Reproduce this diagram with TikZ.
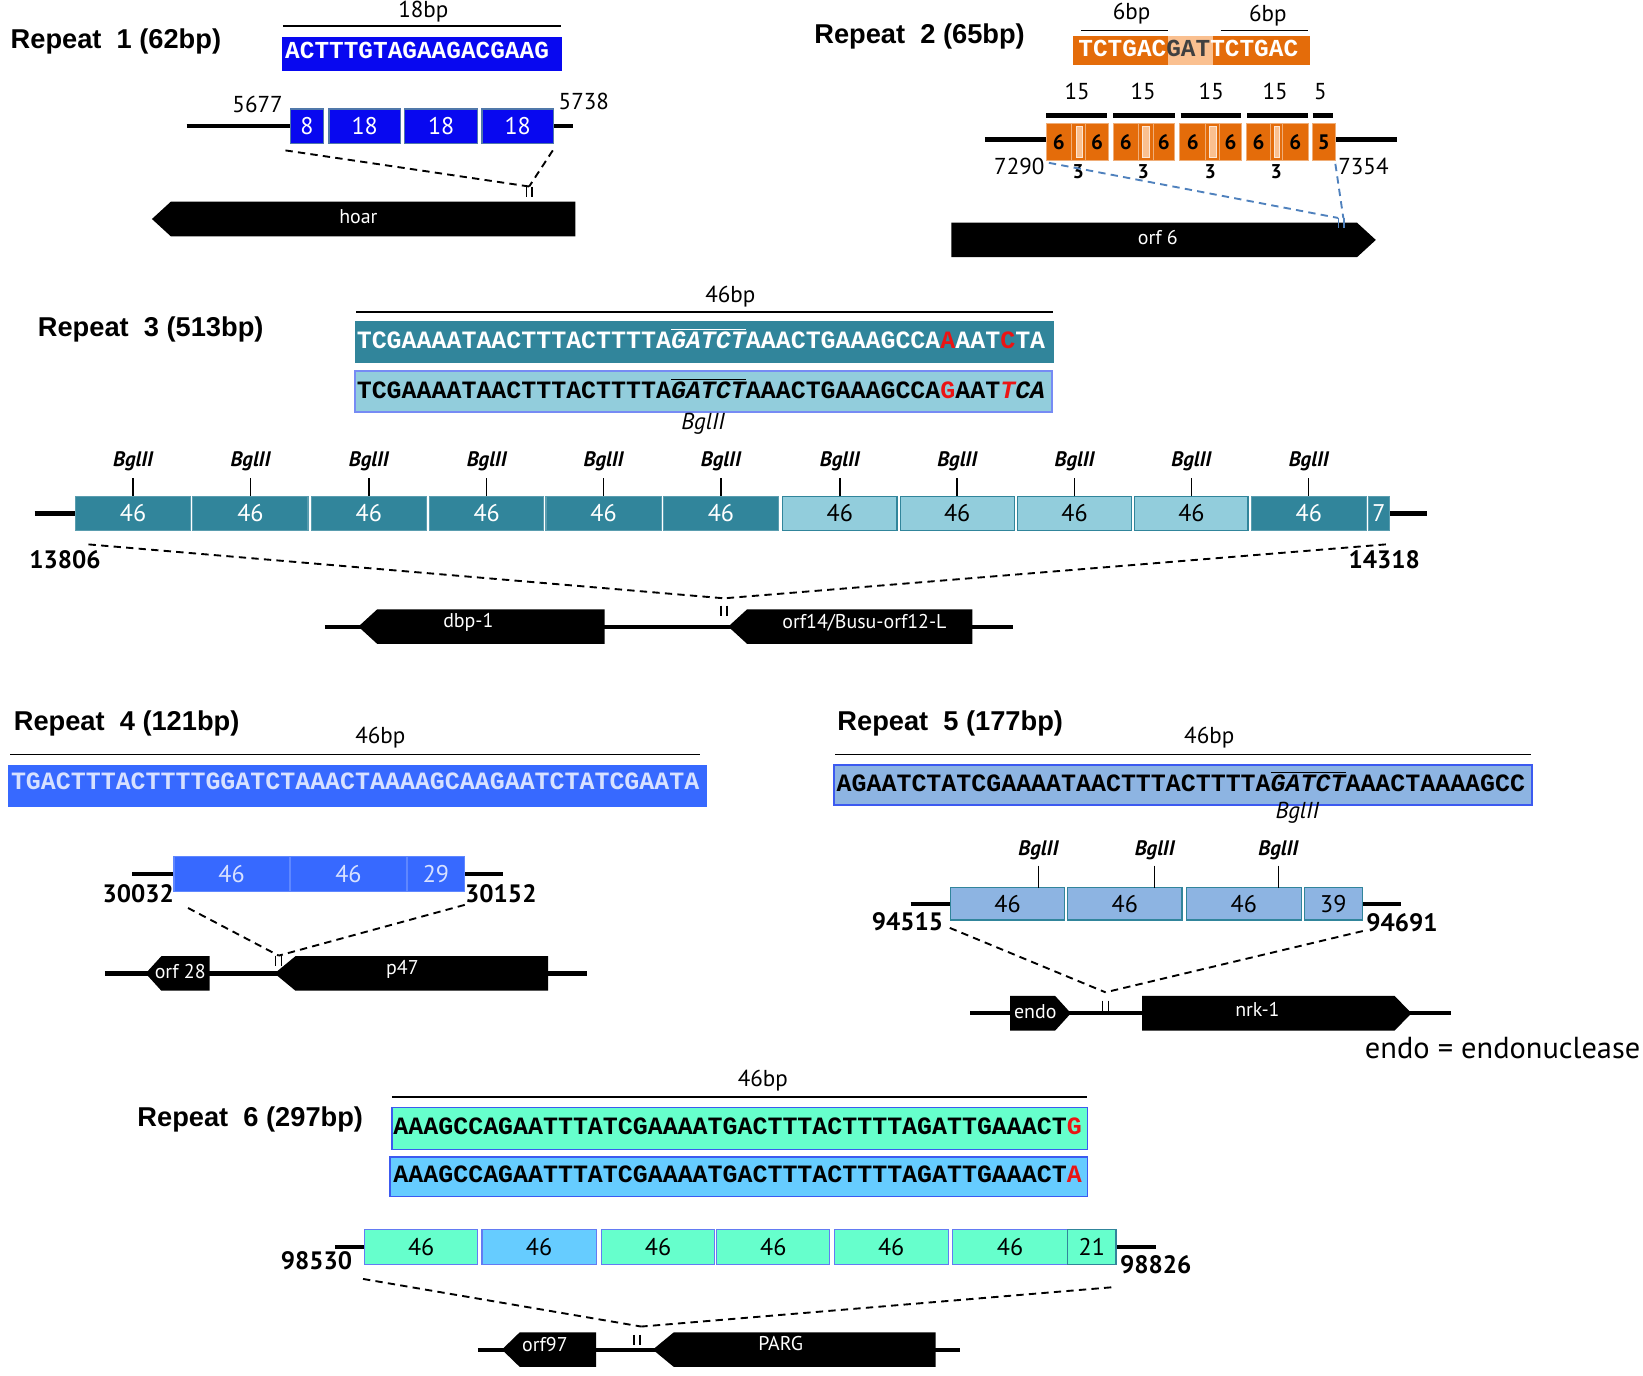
\documentclass[tikz,border=0pt]{standalone}
\usepackage{fontspec}
\setmainfont{PT Sans}
\newfontfamily\titlefont{Liberation Sans}
\newfontfamily\seqfont{Liberation Mono}
\usetikzlibrary{calc}
\definecolor{rOneBlue}{RGB}{8,8,240}
\definecolor{rOneEdge}{RGB}{80,120,170}
\definecolor{rTwoOr}{RGB}{228,108,10}
\definecolor{rTwoLt}{RGB}{250,192,144}
\definecolor{rThrDk}{RGB}{49,133,155}
\definecolor{rThrLt}{RGB}{146,205,220}
\definecolor{rFourBl}{RGB}{55,105,255}
\definecolor{rFourTx}{RGB}{215,225,255}
\definecolor{rFiveLt}{RGB}{141,180,226}
\definecolor{rSixAq}{RGB}{102,255,204}
\definecolor{rSixSky}{RGB}{102,204,255}
\definecolor{edgeBlue}{RGB}{60,90,240}
\definecolor{dashBlue}{RGB}{79,129,189}
\definecolor{mutRed}{RGB}{235,20,20}
\newcommand\fsz[1]{\fontsize{#1}{#1}\selectfont}
\newcommand\ovl[1]{\leavevmode\vbox{\hrule height 1.3pt\kern 1.5pt\hbox{#1}}}
\newcommand\red[1]{\textcolor{mutRed}{#1}}
% style, name, x1, x2, y1, y2, text
\newcommand\rbox[7]{\node[#1,minimum width={(#4-#3)*1pt},minimum height={(#6-#5)*1pt}] (#2) at ({(#3+#4)/2},{(#5+#6)/2}) {#7};}
% left-pointing gene: xtip, xend, yc, head
\newcommand\geneL[4]{\fill[black] (#1,#3) -- ({#1+#4},{#3-16.5}) -- (#2,{#3-16.5}) -- (#2,{#3+16.5}) -- ({#1+#4},{#3+16.5}) -- cycle;}
% right-pointing gene: xstart, xtip, yc, head
\newcommand\geneR[4]{\fill[black] (#2,#3) -- ({#2-#4},{#3-16.5}) -- (#1,{#3-16.5}) -- (#1,{#3+16.5}) -- ({#2-#4},{#3+16.5}) -- cycle;}
\newcommand\insmark[2]{\draw[#2,line width=1.3pt] #1 ++(-2.8,0) -- ++(0,10) #1 ++(2.8,0) -- ++(0,10);}
\begin{document}
\begin{tikzpicture}[x=1pt,y=-1pt,
  lbl/.style={inner sep=0pt,font=\fsz{22}},
  bnum/.style={inner sep=0pt,font=\bfseries\fsz{24}},
  ttl/.style={inner sep=0pt,anchor=west,font=\titlefont\bfseries\fsz{26}},
  seqt/.style={inner sep=0pt,font=\seqfont\bfseries\fsz{23.8}},
  glab/.style={inner sep=0pt,text=white,font=\fsz{19}},
  bgl/.style={inner sep=0pt,font=\bfseries\itshape\fsz{20}},
  unit/.style={draw,line width=1.1pt,inner sep=0pt,font=\fsz{23}},
  gline/.style={line width=4pt},
  sbar/.style={line width=1.5pt},
  tick/.style={line width=1.4pt},
  conn/.style={line width=1.8pt,dash pattern=on 7pt off 5pt},
  r1u/.style={unit,fill=rOneBlue,draw=rOneEdge,text=white},
  r2u/.style={unit,fill=rTwoOr,draw=rTwoOr!55!white,line width=0.8pt,font=\bfseries\fsz{20}},
  r2bar/.style={fill=rTwoLt,draw=white!60!rTwoLt,line width=0.8pt},
  r4u/.style={unit,fill=rFourBl,draw=rFourBl!80!white,text=rFourTx},
  r5u/.style={unit,fill=rFiveLt,draw=rThrDk,text=black},
  ]
\useasboundingbox (0,0) rectangle (1568,1313);

% ================= Repeat 1 =================
\node[ttl] (t1) at (10,40) {Repeat\ \ 1 (62bp)};
\node[lbl] (r1len) at (404,11) {18bp};
\draw[sbar] (270,25) -- (535,25);
\rbox{fill=rOneBlue,inner sep=0pt}{r1seq}{269}{536}{35}{68}{}
\node[seqt,text=white,anchor=west,font=\seqfont\bfseries\fsz{23.3}] (r1txt) at (272,48) {ACTTTGTAGAAGACGAAG};
\draw[gline] (178,120) -- (280,120);
\draw[gline] (525,120) -- (547,120);
\rbox{r1u}{r1a}{277}{309}{104}{137}{8}
\rbox{r1u}{r1b}{314}{382}{104}{137}{18}
\rbox{r1u}{r1c}{386}{456}{104}{137}{18}
\rbox{r1u}{r1d}{460}{528}{104}{137}{18}
\node[lbl,anchor=east] (r1s) at (270,100) {5677};
\node[lbl,anchor=west] (r1e) at (533,97) {5738};
\geneL{145}{549}{209}{18}
\node[glab] (hoar) at (342,207) {hoar};
\coordinate (r1ins) at (505,178);
\draw[conn] ($(r1a.south west)+(-4,6)$) -- (r1ins);
\draw[conn] ($(r1d.south east)+(-1,6)$) -- (r1ins);
\insmark{(r1ins)}{black}

% ================= Repeat 2 =================
\node[ttl] (t2) at (777,35) {Repeat\ \ 2 (65bp)};
\node[lbl] (r2l1) at (1080,13) {6bp};
\node[lbl] (r2l2) at (1210,15) {6bp};
\draw[sbar] (1032,29) -- (1115,29);
\draw[sbar] (1165,29) -- (1248,29);
\rbox{fill=rTwoOr,inner sep=0pt}{r2seq}{1024}{1250}{34}{62}{}
\fill[rTwoLt] (1115,34) rectangle (1158,62);
\node[seqt,anchor=west,font=\seqfont\bfseries\fsz{23.3}] (r2txt) at (1029,46) {\textcolor{white}{TCTGAC}\textcolor{black!75}{GAT}\textcolor{white}{TCTGAC}};
\draw[line width=5pt] (940,133) -- (1000,133);
\draw[line width=5pt] (1272,133) -- (1333,133);
\rbox{r2u}{r2a1}{998.4}{1022.5}{118}{153}{6}
\rbox{r2u}{r2a2}{1022.5}{1036.3}{118}{153}{}
\rbox{r2u}{r2a3}{1036.3}{1057.8}{118}{153}{6}
\rbox{r2u}{r2b1}{1062.3}{1086.5}{118}{153}{6}
\rbox{r2u}{r2b2}{1086.5}{1100.5}{118}{153}{}
\rbox{r2u}{r2b3}{1100.5}{1121}{118}{153}{6}
\rbox{r2u}{r2c1}{1125.8}{1150.7}{118}{153}{6}
\rbox{r2u}{r2c2}{1150.7}{1163.7}{118}{153}{}
\rbox{r2u}{r2c3}{1163.7}{1185.2}{118}{153}{6}
\rbox{r2u}{r2d1}{1189.6}{1212.7}{118}{153}{6}
\rbox{r2u}{r2d2}{1212.7}{1224.2}{118}{153}{}
\rbox{r2u}{r2d3}{1224.2}{1248.3}{118}{153}{6}
\rbox{r2u}{r2e}{1252.8}{1274}{118}{153}{5}
\draw[r2bar] (1027,121) rectangle (1033,150);
\draw[r2bar] (1090.5,121) rectangle (1097.2,150);
\draw[r2bar] (1154.4,121) rectangle (1161.1,150);
\draw[r2bar] (1216.4,121) rectangle (1220.8,150);
\foreach \x/\t in {1028/15,1091/15,1156/15,1217/15,1260/5} {\node[lbl] at (\x,87) {\t};}
\draw[line width=5pt] (998.4,110) -- (1056.7,110);
\draw[line width=5pt] (1062.3,110) -- (1121,110);
\draw[line width=5pt] (1126.6,110) -- (1184.8,110);
\draw[line width=5pt] (1190.5,110) -- (1248.3,110);
\draw[line width=5pt] (1252.8,110) -- (1272.1,110);
\foreach \x in {1029,1091,1155,1218} {\node[bnum,font=\bfseries\fsz{19}] at (\x,164) {3};}
\node[lbl,anchor=east] (r2s) at (997,159) {7290};
\node[lbl,anchor=west] (r2e2) at (1277,159) {7354};
\geneR{908}{1313}{229}{18}
\node[glab] (orf6) at (1105,227) {orf 6};
\coordinate (r2ins) at (1280,208);
\draw[conn,draw=dashBlue] ($(r2a1.south west)+(3,2)$) -- ($(r2ins)+(-3,0)$);
\draw[conn,draw=dashBlue] ($(r2e.south east)+(0,3)$) -- ($(r2ins)+(2,0)$);
\insmark{(r2ins)}{dashBlue}

% ================= Repeat 3 =================
\node[ttl] (t3) at (36,314) {Repeat\ \ 3 (513bp)};
\node[lbl] (r3len) at (697,283) {46bp};
\draw[sbar] (340,298) -- (1005,298);
\rbox{fill=rThrDk,inner sep=0pt}{r3seqa}{339}{1006}{306}{346}{}
\node[seqt,text=white] (r3ta) at (669,323) {TCGAAAATAACTTTACTTTTA\ovl{\itshape GATCT}AAACTGAAAGCCA\red{A}AAT\red{C}TA};
\rbox{fill=rThrLt,draw=edgeBlue!70!white,line width=1.5pt,inner sep=0pt}{r3seqb}{339}{1004}{354}{393}{}
\node[seqt,text=black] (r3tb) at (669,371) {TCGAAAATAACTTTACTTTTA\ovl{\itshape GATCT}AAACTGAAAGCCA\red{G}AAT\red{\itshape T}\textit{CA}};
\node[lbl,font=\itshape\fsz{22}] (r3bgl) at (671,404) {BglII};
\draw[gline] (33,490) -- (75,490);
\draw[gline] (1323,490) -- (1362,490);
\foreach \a/\b/\fc/\tc/\ec [count=\i] in {72/182/rThrDk/white/rThrDk!80!white,184/294/rThrDk/white/rThrDk!80!white,297/407/rThrDk/white/rThrDk!80!white,410/519/rThrDk/white/rThrDk!80!white,521/631/rThrDk/white/rThrDk!80!white,633/743/rThrDk/white/rThrDk!80!white,747/856/rThrLt/black/rThrDk,859/968/rThrLt/black/rThrDk,971/1080/rThrLt/black/rThrDk,1083/1191/rThrLt/black/rThrDk,1194/1304/rThrDk/white/rThrDk!80!white} {
  \rbox{unit,fill=\fc,text=\tc,draw=\ec}{r3b\i}{\a}{\b}{474}{506}{46}
  \draw[tick] (r3b\i.north) -- ++(0,-17);
  \node[bgl] at ({(\a+\b)/2},440) {BglII};
}
\rbox{unit,fill=rThrDk,text=white,draw=rThrDk!80!white}{r3s}{1306}{1326}{474}{506}{7}
\node[bnum] (r3st) at (62,534) {13806};
\node[bnum] (r3en) at (1321,534) {14318};
\draw[gline] (310,598) -- (967,598);
\geneL{342}{577}{598}{18}
\node[glab] (dbp) at (447,594) {dbp-1};
\geneL{695}{928}{598}{18}
\node[glab] (orf14) at (825,594) {orf14/Busu-orf12-L};
\coordinate (r3ins) at (691,571);
\coordinate (r3mk) at (691,578);
\draw[conn] ($(r3b1.south west)+(13,13)$) -- (r3ins);
\draw[conn] ($(r3s.south east)+(-4,13)$) -- (r3ins);
\insmark{(r3mk)}{black}

% ================= Repeat 4 =================
\node[ttl] (t4) at (13,690) {Repeat\ \ 4 (121bp)};
\node[lbl] (r4len) at (363,704) {46bp};
\draw[sbar] (10,720) -- (668,720);
\rbox{fill=rFourBl,inner sep=0pt}{r4seq}{8}{675}{730}{770}{}
\node[seqt,text=rFourTx] (r4t) at (339,746) {TGACTTTACTTTTGGATCTAAACTAAAAGCAAGAATCTATCGAATA};
\draw[gline] (126,834) -- (170,834);
\draw[gline] (440,834) -- (480,834);
\rbox{r4u}{r4a}{166}{276}{817}{851}{46}
\rbox{r4u}{r4b}{277}{388}{817}{851}{46}
\rbox{r4u}{r4c}{389}{443}{817}{851}{29}
\node[bnum] (r4st) at (132,853) {30032};
\node[bnum] (r4en) at (478,853) {30152};
\draw[gline] (100,929) -- (560,929);
\geneL{139}{200}{929}{15}
\node[glab] (orf28) at (172,927) {orf 28};
\geneL{262}{523}{929}{20}
\node[glab] (p47) at (384,925) {p47};
\coordinate (r4ins) at (266,912);
\draw[conn] ($(r4a.south west)+(14,15)$) -- (r4ins);
\draw[conn] ($(r4c.south east)+(0,12)$) -- (r4ins);
\insmark{(r4ins)}{black}

% ================= Repeat 5 =================
\node[ttl] (t5) at (799,690) {Repeat\ \ 5 (177bp)};
\node[lbl] (r5len) at (1154,704) {46bp};
\draw[sbar] (797,720) -- (1461,720);
\rbox{fill=rFiveLt,draw=edgeBlue,line width=1.5pt,inner sep=0pt}{r5seq}{796}{1462}{730}{768}{}
\node[seqt,text=black] (r5t) at (1127,746) {AGAATCTATCGAAAATAACTTTACTTTTA\ovl{\itshape GATCT}AAACTAAAAGCC};
\node[lbl,font=\itshape\fsz{22}] (r5bgl) at (1238,776) {BglII};
\draw[gline] (869,863) -- (910,863);
\draw[gline] (1297,863) -- (1337,863);
\rbox{r5u}{r5a}{907}{1016}{847}{878}{46}
\rbox{r5u}{r5b}{1019}{1128}{847}{878}{46}
\rbox{r5u}{r5c}{1132}{1242}{847}{878}{46}
\rbox{r5u}{r5d}{1245}{1300}{847}{878}{39}
\foreach \x in {991,1102,1220} {
  \draw[tick] (\x,826) -- (\x,847);
  \node[bgl] at (\x,811) {BglII};
}
\node[bnum] (r5st) at (866,880) {94515};
\node[bnum] (r5en) at (1338,881) {94691};
\draw[gline] (926,967) -- (1385,967);
\geneR{964}{1022}{967}{15}
\node[glab] (endo) at (988,965) {endo};
\geneR{1090}{1347}{967}{16}
\node[glab] (nrk) at (1200,963) {nrk-1};
\coordinate (r5ins) at (1055,947);
\coordinate (r5mk) at (1055,955);
\draw[conn] ($(r5a.south west)+(0,7)$) -- (r5ins);
\draw[conn] ($(r5d.south east)+(0,10)$) -- (r5ins);
\insmark{(r5mk)}{black}
\node[lbl,font=\fsz{29}] (legend) at (1434,1000) {endo = endonuclease};

% ================= Repeat 6 =================
\node[ttl] (t6) at (131,1068) {Repeat\ \ 6 (297bp)};
\node[lbl] (r6len) at (728,1031) {46bp};
\draw[sbar] (374,1047) -- (1037,1047);
\rbox{fill=rSixAq,draw=edgeBlue,line width=1.5pt,inner sep=0pt}{r6seqa}{374}{1038}{1057}{1097}{}
\node[seqt,text=black] (r6ta) at (704,1075) {AAAGCCAGAATTTATCGAAAATGACTTTACTTTTAGATTGAAACT\red{G}};
\rbox{fill=rSixSky,draw=edgeBlue,line width=1.5pt,inner sep=0pt}{r6seqb}{372}{1038}{1104}{1142}{}
\node[seqt,text=black] (r6tb) at (704,1121) {AAAGCCAGAATTTATCGAAAATGACTTTACTTTTAGATTGAAACT\red{A}};
\draw[gline] (320,1190) -- (351,1190);
\draw[gline] (1062,1190) -- (1103,1190);
\foreach \a/\b/\fc/\t/\ec [count=\i] in {348/456/rSixAq/46/edgeBlue!80!white,460/569/rSixSky/46/edgeBlue!80!white,574/682/rSixAq/46/edgeBlue!80!white,684/792/rSixAq/46/edgeBlue!80!white,796/905/rSixAq/46/edgeBlue!80!white,909/1019/rSixAq/46/edgeBlue!80!white,1019/1065/rSixAq/21/rThrDk} {
  \rbox{unit,fill=\fc,text=black,draw=\ec}{r6b\i}{\a}{\b}{1173}{1207}{\t}
}
\node[bnum] (r6st) at (302,1203) {98530};
\node[bnum] (r6en) at (1103,1207) {98826};
\draw[gline] (456,1288) -- (916,1288);
\geneL{479}{569}{1288}{17}
\node[glab] (orf97) at (520,1283) {orf97};
\geneL{623}{893}{1288}{20}
\node[glab] (parg) at (745,1282) {PARG};
\coordinate (r6ins) at (612,1266);
\coordinate (r6mk) at (608,1274);
\draw[conn] ($(r6b1.south west)+(-1,13)$) -- (r6ins);
\draw[conn] ($(r6b7.south east)+(-5,21)$) -- (r6ins);
\insmark{(r6mk)}{black}
\end{tikzpicture}
\end{document}
